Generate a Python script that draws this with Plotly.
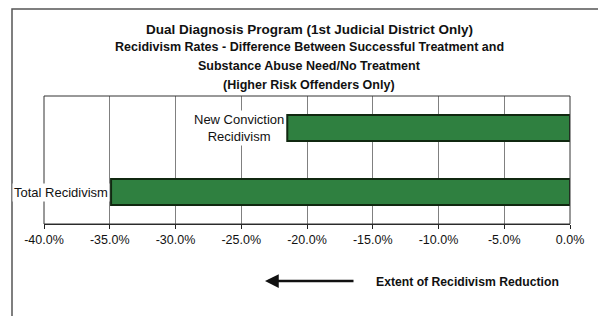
import plotly.graph_objects as go

categories = ["Total Recidivism", "New Conviction<br>Recidivism"]
values = [-34.9, -21.5]
tick_vals = [-40, -35, -30, -25, -20, -15, -10, -5, 0]
tick_text = ["-40.0%", "-35.0%", "-30.0%", "-25.0%", "-20.0%", "-15.0%", "-10.0%", "-5.0%", "0.0%"]
title_lines = [
    "Dual Diagnosis Program (1st Judicial District Only)",
    "Recidivism Rates - Difference Between Successful Treatment and",
    "Substance Abuse Need/No Treatment",
    "(Higher Risk Offenders Only)",
]
arrow_label = "Extent of Recidivism Reduction"

FONT = "Liberation Sans, Arial, sans-serif"

fig = go.Figure()
fig.add_trace(go.Bar(
    x=values, y=categories, orientation="h",
    marker=dict(color="#2f8040", line=dict(color="#102810", width=2)),
    width=0.41, hoverinfo="skip",
))

W, H = 598, 316
L, R, T, B = 44, 570, 96, 224
pw, ph = R - L, B - T

def px(x):
    return (x - L) / pw

def py(y):
    return (B - y) / ph

annotations = []
# titles
title_specs = [(29, 13.5), (47, 12.5), (66, 12.5), (85, 12.5)]
for line, (yy, sz) in zip(title_lines, title_specs):
    annotations.append(dict(
        x=px(309), y=py(yy), xref="paper", yref="paper", text="<b>%s</b>" % line,
        showarrow=False, xanchor="center", yanchor="middle",
        font=dict(family=FONT, size=sz, color="#111111"),
    ))
# category labels next to bar ends
for cat, val in zip(categories, values):
    annotations.append(dict(
        x=val, y=cat, xref="x", yref="y", text=cat, showarrow=False,
        xanchor="right", yanchor="middle", xshift=-1, align="center",
        font=dict(family=FONT, size=13, color="#111111"),
        bgcolor="white", borderpad=1,
    ))
# arrow
annotations.append(dict(
    x=px(265), y=py(281), xref="paper", yref="paper", text="",
    showarrow=True, ax=90, ay=0, arrowhead=2, arrowsize=1.1, arrowwidth=2.5,
    arrowcolor="#111111",
))
annotations.append(dict(
    x=px(374), y=py(282), xref="paper", yref="paper", text="<b>%s</b>" % arrow_label,
    showarrow=False, xanchor="left", yanchor="middle",
    font=dict(family=FONT, size=12.2, color="#111111"),
))

shapes = [
    # outer chart frame
    dict(type="rect", xref="paper", yref="paper",
         x0=px(12), x1=px(640), y0=py(360), y1=py(9),
         line=dict(color="#555555", width=1.5), layer="below"),
    # plot border
    dict(type="rect", xref="paper", yref="paper", x0=0, x1=1, y0=0, y1=1,
         line=dict(color="#333333", width=1), layer="above"),
]

fig.update_layout(
    width=W, height=H,
    margin=dict(l=L, r=W - R, t=T, b=H - B, pad=0),
    paper_bgcolor="white", plot_bgcolor="white",
    showlegend=False, bargap=0.6,
    annotations=annotations, shapes=shapes,
    xaxis=dict(
        range=[-40, 0], tickvals=tick_vals, ticktext=tick_text,
        showgrid=True, gridcolor="#808080", gridwidth=1,
        showline=True, linecolor="#222222", linewidth=1,
        ticks="outside", ticklen=4, tickcolor="#222222",
        tickfont=dict(family=FONT, size=12.5, color="#111111"),
        zeroline=False, fixedrange=True,
    ),
    yaxis=dict(
        categoryorder="array", categoryarray=categories,
        showticklabels=False, showgrid=False, zeroline=False, fixedrange=True,
        range=[-0.5, 1.5],
    ),
)

fig.write_html(
    "out.html",
    config={"displayModeBar": False, "staticPlot": True},
    post_script="document.body.style.margin='0';document.body.style.overflow='hidden';",
)
